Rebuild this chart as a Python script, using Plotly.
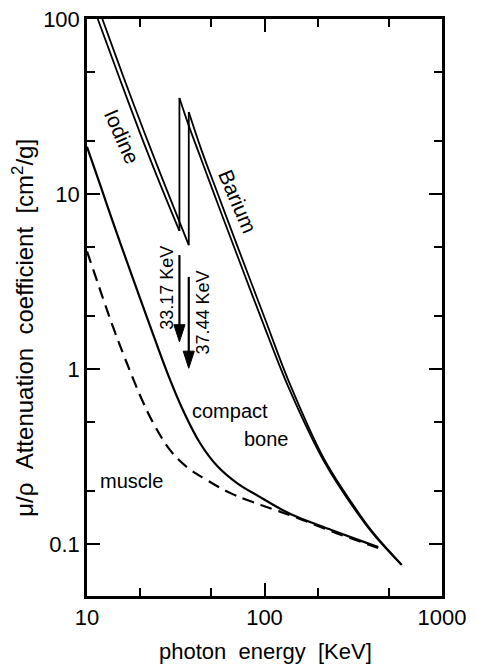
import numpy as np
import plotly.graph_objects as go

# ---------------- data ----------------
# Iodine (K-edge 33.17 keV): below-edge and above-edge branches
iodine_pre_E = [11.5, 15, 20, 26, 33.17]
iodine_pre_mu = [100, 48, 22, 11.2, 6.15]
iodine_post_E = [33.17, 37.44, 44, 55, 70, 100, 137, 217, 337, 416, 590]
iodine_post_mu = [35.4, 24.6, 15.8, 8.6, 4.5, 1.74, 0.78, 0.295, 0.148, 0.112, 0.076]

# Barium (K-edge 37.44 keV)
barium_pre_E = [12.2, 16, 21, 28, 37.44]
barium_pre_mu = [100, 47, 22.6, 10.7, 5.1]
barium_post_E = [37.44, 44, 55, 70, 100, 137, 217, 337, 416, 595]
barium_post_mu = [29.4, 18.0, 9.8, 5.1, 1.97, 0.85, 0.305, 0.152, 0.114, 0.076]

# Compact bone
bone_E = [10, 12, 14, 17, 20, 24, 29.4, 34.8, 43.3, 54, 70, 94, 127, 152, 240, 437]
bone_mu = [18.6, 10.9, 6.9, 3.96, 2.5, 1.5, 0.866, 0.58, 0.378, 0.28, 0.223, 0.186, 0.156, 0.143, 0.12, 0.096]

# Muscle
muscle_E = [10, 11.5, 12.5, 14.1, 16, 18.3, 20.2, 23.6, 29.4, 36.6, 47.4, 63.9, 82.8, 111.6, 145, 240, 437]
muscle_mu = [4.7, 3.1, 2.42, 1.71, 1.22, 0.866, 0.683, 0.492, 0.344, 0.275, 0.232, 0.196, 0.176, 0.158, 0.144, 0.118, 0.095]

# K-edge arrows: energy, arrow tail value, arrow tip value, label
edge_E = [33.17, 37.44]
edge_tail = [4.48, 3.36]
edge_tip = [1.43, 1.01]
edge_labels = ["33.17 KeV", "37.44 KeV"]

x_tickvals = [10, 100, 1000]
x_ticktext = ["10", "100", "1000"]
x_minor = [20, 50, 200, 500]
y_tickvals = [0.1, 1, 10, 100]
y_ticktext = ["0.1", "1", "10", "100"]
y_minor = [0.2, 0.5, 2, 5, 20, 50]

FONT = "Liberation Sans, Arial, sans-serif"
LW = 1.8

fig = go.Figure()


def element(pre_E, pre_mu, post_E, post_mu, name):
    line = dict(color="black", width=LW, shape="spline", smoothing=1.0)
    fig.add_trace(go.Scatter(x=pre_E, y=pre_mu, mode="lines", name=name, line=line))
    # vertical K-edge jump
    fig.add_trace(go.Scatter(x=[pre_E[-1], post_E[0]], y=[pre_mu[-1], post_mu[0]], mode="lines",
                             name=name, line=dict(color="black", width=LW)))
    fig.add_trace(go.Scatter(x=post_E, y=post_mu, mode="lines", name=name, line=line))


element(iodine_pre_E, iodine_pre_mu, iodine_post_E, iodine_post_mu, "Iodine")
element(barium_pre_E, barium_pre_mu, barium_post_E, barium_post_mu, "Barium")

fig.add_trace(go.Scatter(x=bone_E, y=bone_mu, mode="lines", name="compact bone",
                         line=dict(color="black", width=2.2, shape="spline", smoothing=1.1)))
fig.add_trace(go.Scatter(x=muscle_E, y=muscle_mu, mode="lines", name="muscle",
                         line=dict(color="black", width=2.2, dash="12px,7px", shape="spline", smoothing=1.1)))

# K-edge arrows
for e, t0, t1 in zip(edge_E, edge_tail, edge_tip):
    fig.add_trace(go.Scatter(x=[e, e], y=[t0, t1], mode="lines+markers", name="edge",
                             line=dict(color="black", width=2.2),
                             marker=dict(symbol="arrow", angleref="previous", size=[0, 18],
                                         color="black", opacity=1, line=dict(width=1, color="black"))))


def L(v):
    return float(np.log10(v))


ann = []
# curve labels
ann.append(dict(x=L(15.7), y=L(21.2), text="Iodine", textangle=66, showarrow=False,
                font=dict(size=21, family=FONT, color="black")))
ann.append(dict(x=L(71), y=L(9.12), text="Barium", textangle=67, showarrow=False,
                font=dict(size=21, family=FONT, color="black")))
ann.append(dict(x=L(64.3), y=L(0.575), text="compact", showarrow=False,
                font=dict(size=20, family=FONT, color="black")))
ann.append(dict(x=L(102.6), y=L(0.398), text="bone", showarrow=False,
                font=dict(size=20, family=FONT, color="black")))
ann.append(dict(x=L(17.7), y=L(0.229), text="muscle", showarrow=False,
                font=dict(size=20, family=FONT, color="black")))
# edge labels
ann.append(dict(x=L(28.1), y=L(2.9), text=edge_labels[0], textangle=-90, showarrow=False,
                font=dict(size=18, family=FONT, color="black")))
ann.append(dict(x=L(44.8), y=L(2.09), text=edge_labels[1], textangle=-90, showarrow=False,
                font=dict(size=18, family=FONT, color="black")))
# axis titles
ann.append(dict(xref="paper", yref="paper", x=-0.18, y=0.465, xanchor="center", yanchor="middle",
                text="\u03bc/\u03c1\u00a0\u00a0Attenuation\u00a0\u00a0coefficient\u00a0\u00a0[cm<sup>2</sup>/g]",
                textangle=-90, showarrow=False, font=dict(size=24, family=FONT, color="black")))
ann.append(dict(xref="paper", yref="paper", x=0.504, y=-0.097, xanchor="center", yanchor="middle",
                text="photon\u00a0\u00a0energy\u00a0\u00a0[KeV]",
                showarrow=False, font=dict(size=22, family=FONT, color="black")))

axis_common = dict(
    showgrid=False, zeroline=False, showline=True, linecolor="black", linewidth=2.5,
    mirror="allticks", ticks="inside", ticklen=13, tickwidth=2, tickcolor="black",
    tickfont=dict(size=22, family=FONT, color="black"), automargin=False,
)

fig.update_layout(
    width=477, height=665,
    margin=dict(l=87, r=35, t=19, b=69, autoexpand=False),
    paper_bgcolor="white", plot_bgcolor="white",
    showlegend=False,
    annotations=ann,
    xaxis=dict(type="log", range=[1, 3], tickvals=x_tickvals, ticktext=x_ticktext,
               minor=dict(tickvals=x_minor, ticks="inside", ticklen=8, tickwidth=2, tickcolor="black"),
               **axis_common),
    yaxis=dict(type="log", range=[-1.297, 2], tickvals=y_tickvals, ticktext=y_ticktext,
               minor=dict(tickvals=y_minor, ticks="inside", ticklen=8, tickwidth=2, tickcolor="black"),
               **axis_common),
)

fig.write_html("out.html", config={"displayModeBar": False},
               post_script="document.body.style.margin='0';document.body.style.overflow='hidden';")
